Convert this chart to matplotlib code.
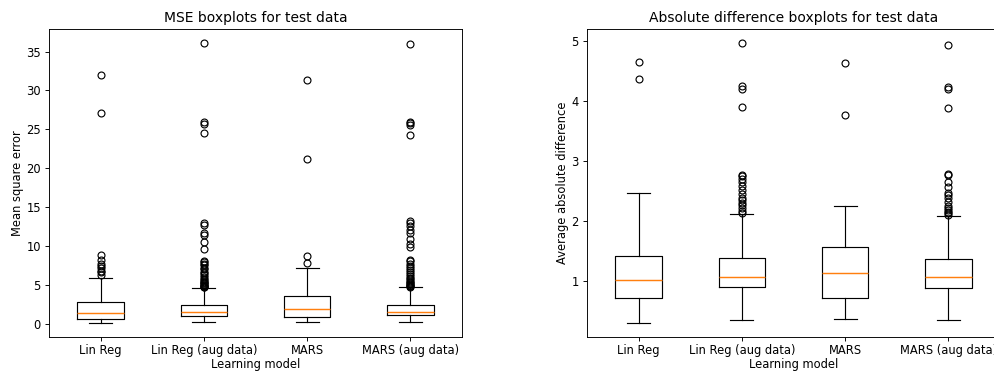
import matplotlib
matplotlib.use("Agg")
import matplotlib.pyplot as plt

models = ["Lin Reg", "Lin Reg (aug data)", "MARS", "MARS (aug data)"]

# MSE panel statistics
mse_med = [1.35, 1.46, 1.85, 1.46]
mse_q1 = [0.65, 0.98, 0.81, 1.05]
mse_q3 = [2.84, 2.45, 3.49, 2.45]
mse_whislo = [0.08, 0.17, 0.20, 0.17]
mse_whishi = [5.90, 4.60, 7.10, 4.65]
mse_fliers_linreg = [32.0, 27.1, 8.8, 8.2, 7.7, 7.4, 7.1, 6.8, 6.6, 6.3]
mse_fliers_linreg_aug = [36.1, 26.0, 25.7, 24.5, 12.9, 12.7, 11.6, 11.4, 10.5, 9.6,
                         8.1, 7.9, 7.7, 7.5, 7.2, 7.0, 6.7, 6.5, 6.2, 6.0, 5.8,
                         5.6, 5.4, 5.3, 5.2, 5.1, 5.0, 4.9, 4.8, 4.75, 4.7]
mse_fliers_mars = [31.4, 21.2, 8.7, 7.8]
mse_fliers_mars_aug = [36.0, 26.0, 25.8, 25.6, 24.3, 13.2, 13.0, 12.6, 12.1, 11.6,
                       10.9, 10.3, 9.8, 8.2, 8.0, 7.7, 7.4, 7.1, 6.9, 6.6, 6.4,
                       6.1, 5.9, 5.7, 5.5, 5.3, 5.2, 5.1, 5.0, 4.9, 4.8, 4.75]

# Absolute difference panel statistics
ad_med = [1.01, 1.07, 1.14, 1.07]
ad_q1 = [0.72, 0.895, 0.72, 0.88]
ad_q3 = [1.42, 1.38, 1.57, 1.37]
ad_whislo = [0.30, 0.35, 0.37, 0.355]
ad_whishi = [2.47, 2.11, 2.25, 2.08]
ad_fliers_linreg = [4.65, 4.36]
ad_fliers_linreg_aug = [4.96, 4.25, 4.20, 3.90, 2.765, 2.74, 2.69, 2.64, 2.58,
                        2.51, 2.44, 2.38, 2.34, 2.30, 2.26, 2.21, 2.16, 2.13]
ad_fliers_mars = [4.62, 3.77]
ad_fliers_mars_aug = [4.93, 4.22, 4.19, 3.88, 2.78, 2.76, 2.65, 2.56, 2.46, 2.43,
                      2.38, 2.32, 2.24, 2.21, 2.18, 2.15, 2.13, 2.10]

mse_fliers = [mse_fliers_linreg, mse_fliers_linreg_aug, mse_fliers_mars, mse_fliers_mars_aug]
ad_fliers = [ad_fliers_linreg, ad_fliers_linreg_aug, ad_fliers_mars, ad_fliers_mars_aug]


def make_stats(med, q1, q3, lo, hi, fl):
    return [dict(med=med[i], q1=q1[i], q3=q3[i], whislo=lo[i], whishi=hi[i],
                 fliers=fl[i], label=models[i]) for i in range(len(models))]


W, H, DPI = 994, 372, 83
fig = plt.figure(figsize=(W / DPI, H / DPI), dpi=DPI)

ax1 = fig.add_axes([49 / W, (H - 337) / H, 413 / W, 308 / H])
ax2 = fig.add_axes([587 / W, (H - 337) / H, 413 / W, 308 / H])

flierprops = dict(marker='o', markerfacecolor='none', markeredgecolor='black')
medianprops = dict(color='#ff7f0e', linewidth=1.25)

ax1.bxp(make_stats(mse_med, mse_q1, mse_q3, mse_whislo, mse_whishi, mse_fliers),
        flierprops=flierprops, medianprops=medianprops)
ax1.set_title("MSE boxplots for test data")
ax1.set_ylabel("Mean square error", labelpad=2)
ax1.set_xlabel("Learning model", labelpad=1)

ax2.bxp(make_stats(ad_med, ad_q1, ad_q3, ad_whislo, ad_whishi, ad_fliers),
        flierprops=flierprops, medianprops=medianprops)
ax2.set_title("Absolute difference boxplots for test data")
ax2.set_ylabel("Average absolute difference", labelpad=2)
ax2.set_xlabel("Learning model", labelpad=1)

for ax in (ax1, ax2):
    ax.tick_params(axis='x', pad=2.5)

fig.savefig("out.png", dpi=DPI)
